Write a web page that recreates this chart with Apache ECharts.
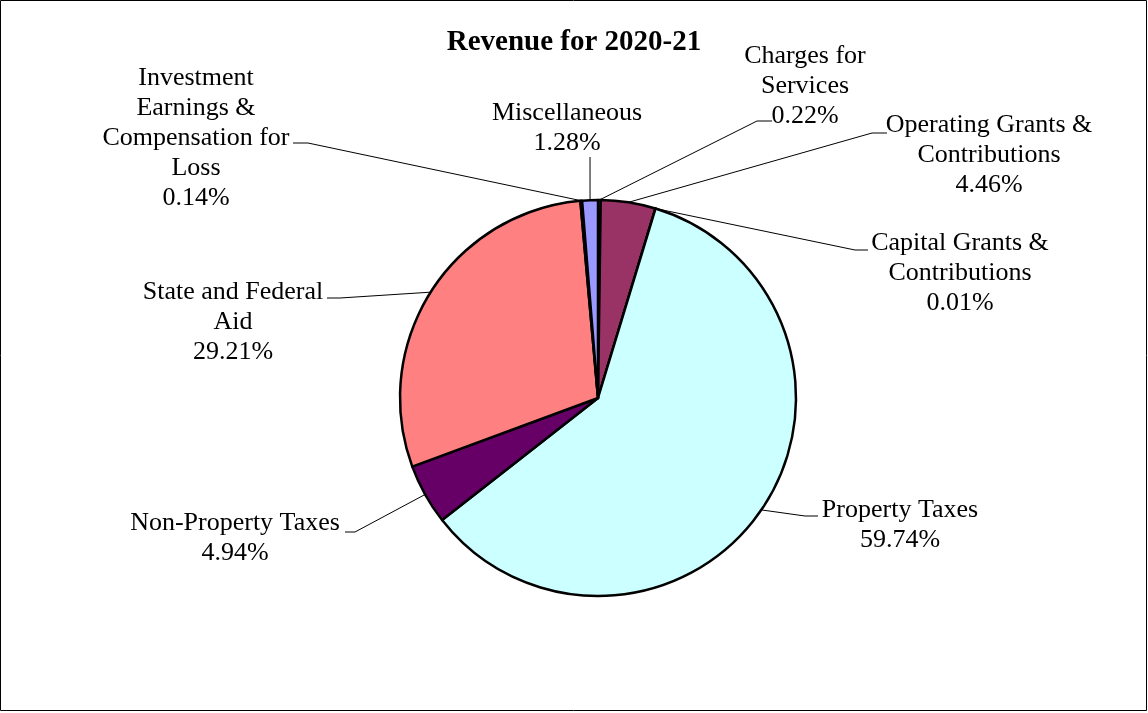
<!DOCTYPE html>
<html>
<head>
<meta charset="utf-8">
<script src="https://cdn.jsdelivr.net/npm/echarts@6/dist/echarts.min.js"></script>
<style>
html,body{margin:0;padding:0;background:#fff;}
#chart{width:1148px;height:713px;}
</style>
</head>
<body>
<div id="chart"></div>
<script>
// ---- data ----
const TITLE = 'Revenue for 2020-21';
const CATEGORIES = [
  'Charges for Services',
  'Operating Grants & Contributions',
  'Capital Grants & Contributions',
  'Property Taxes',
  'Non-Property Taxes',
  'State and Federal Aid',
  'Investment Earnings & Compensation for Loss',
  'Miscellaneous'
];
const LABEL_TEXT = [
  'Charges for\nServices',
  'Operating Grants &\nContributions',
  'Capital Grants &\nContributions',
  'Property Taxes',
  'Non-Property Taxes',
  'State and Federal\nAid',
  'Investment\nEarnings &\nCompensation for\nLoss',
  'Miscellaneous'
];
const VALUES = [0.22, 4.46, 0.01, 59.74, 4.94, 29.21, 0.14, 1.28];
const COLORS = ['#CCCCFF', '#993366', '#FFFFCC', '#CCFFFF', '#660066', '#FF8080', '#0066CC', '#9999FF'];

// ---- label placement (layout only) ----
// x: text centre, y: top of text block, elbow/end: leader line points near label
const LABEL_PLACE = [
  {x: 805, y: 41,  elbow: [757, 121], end: [772, 121]},
  {x: 989, y: 110, elbow: [872, 133], end: [887, 133]},
  {x: 960, y: 228, elbow: [855, 250], end: [868, 250]},
  {x: 900, y: 495, elbow: [805, 516], end: [818, 516]},
  {x: 235, y: 508, elbow: [355, 532], end: [345, 532]},
  {x: 233, y: 277, elbow: [340, 298], end: [327, 298]},
  {x: 196, y: 63,  elbow: [308, 143], end: [293, 143]},
  {x: 567, y: 98,  vertical: 157}
];

const FONT = '"Liberation Serif", "Times New Roman", serif';

const chart = echarts.init(document.getElementById('chart'), null, {renderer: 'canvas'});
chart.setOption({
  backgroundColor: '#fff',
  animation: false,
  title: {
    text: TITLE,
    left: 'center',
    top: 28,
    padding: 0,
    textStyle: {fontFamily: FONT, fontSize: 29, fontWeight: 'bold', color: '#000', lineHeight: 29}
  },
  graphic: [{
    type: 'rect',
    shape: {x: 0.5, y: 0.5, width: 1146, height: 710},
    style: {fill: 'none', stroke: '#000', lineWidth: 1},
    silent: true
  }],
  series: [{
    type: 'pie',
    center: [598, 398],
    radius: 198,
    startAngle: 90,
    clockwise: true,
    avoidLabelOverlap: false,
    minAngle: 0,
    data: CATEGORIES.map((n, i) => ({name: n, value: VALUES[i], itemStyle: {color: COLORS[i]}})),
    itemStyle: {borderColor: '#000', borderWidth: 2.5},
    emphasis: {disabled: true},
    label: {
      show: true,
      position: 'outside',
      fontFamily: FONT,
      fontSize: 26,
      lineHeight: 30,
      color: '#000',
      align: 'center',
      formatter: p => LABEL_TEXT[p.dataIndex] + '\n' + p.value.toFixed(2) + '%'
    },
    labelLine: {
      show: true,
      length: 20,
      length2: 10,
      smooth: false,
      lineStyle: {color: '#000', width: 1}
    },
    labelLayout: function (params) {
      const pl = LABEL_PLACE[params.dataIndex];
      const start = params.labelLinePoints ? params.labelLinePoints[0] : null;
      const out = {x: pl.x, y: pl.y, align: 'center', verticalAlign: 'top'};
      if (start) {
        if (pl.vertical != null) {
          out.labelLinePoints = [start, [start[0], pl.vertical], [start[0], pl.vertical]];
        } else {
          out.labelLinePoints = [start, pl.elbow, pl.end];
        }
      }
      return out;
    }
  }]
});
</script>
</body>
</html>
